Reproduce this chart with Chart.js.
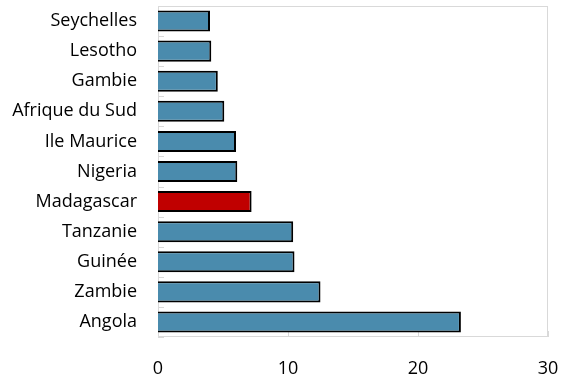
<!DOCTYPE html>
<html>
<head>
<meta charset="utf-8">
<script src="https://cdn.jsdelivr.net/npm/chart.js@4.4.1/dist/chart.umd.min.js"></script>
<style>
  html, body { margin: 0; padding: 0; background: #fff; }
  #wrap { width: 562px; height: 375px; }
</style>
</head>
<body>
<div id="wrap"><canvas id="c" width="562" height="375"></canvas></div>
<script>
// Countries, top to bottom
const countries = ['Seychelles', 'Lesotho', 'Gambie', 'Afrique du Sud', 'Ile Maurice', 'Nigeria',
                   'Madagascar', 'Tanzanie', 'Guinée', 'Zambie', 'Angola'];
const values = [4.0, 4.1, 4.6, 5.1, 6.0, 6.1, 7.2, 10.4, 10.5, 12.5, 23.3];
const xTicks = [0, 10, 20, 30];
const highlight = 'Madagascar';

const BLUE = '#4a8bad';
const RED = '#c00000';
const FRAME = '#d9d9d9';
const FONT = "'Open Sans', 'Noto Sans', sans-serif";

// Plot frame plus short inward tick marks on both axes
const framePlugin = {
  id: 'frame',
  beforeDatasetsDraw(chart) {
    const { ctx, chartArea: a, scales } = chart;
    ctx.save();
    ctx.strokeStyle = FRAME;
    ctx.lineWidth = 1;
    ctx.strokeRect(a.left + 0.5, a.top + 0.5, a.right - a.left - 1, a.bottom - a.top - 1);
    // category separators on the y axis
    const ys = scales.y;
    ctx.beginPath();
    for (let i = 0; i <= countries.length; i++) {
      const y = Math.round(ys.getPixelForValue(i - 0.5)) + 0.5;
      ctx.moveTo(a.left, y);
      ctx.lineTo(a.left + 6, y);
    }
    // value ticks on the x axis
    const xs = scales.x;
    xTicks.forEach(v => {
      const x = Math.round(xs.getPixelForValue(v)) + 0.5;
      ctx.moveTo(x, a.bottom);
      ctx.lineTo(x, a.bottom - 6);
    });
    ctx.stroke();
    ctx.restore();
  }
};

new Chart(document.getElementById('c'), {
  type: 'bar',
  data: {
    labels: countries,
    datasets: [{
      data: values,
      backgroundColor: countries.map(c => c === highlight ? RED : BLUE),
      borderColor: '#000',
      borderWidth: 2,
      borderSkipped: 'start',
      barPercentage: 0.7,
      categoryPercentage: 1.0
    }]
  },
  options: {
    indexAxis: 'y',
    responsive: false,
    animation: false,
    layout: { padding: { top: 6, right: 14, left: 0, bottom: 0 } },
    plugins: { legend: { display: false }, tooltip: { enabled: false } },
    scales: {
      x: {
        min: 0, max: 30,
        afterBuildTicks(scale) { scale.ticks = xTicks.map(v => ({ value: v })); },
        afterFit(scale) {
          scale.height = 38;
          scale.paddingLeft = 0; scale.paddingRight = 0;
          scale.paddingTop = 0; scale.paddingBottom = 0;
        },
        grid: { display: false, drawTicks: false },
        border: { display: false },
        ticks: { color: '#000', padding: 21, font: { family: FONT, size: 18 } }
      },
      y: {
        afterFit(scale) {
          scale.width = 158;
          scale.paddingLeft = 0; scale.paddingRight = 0;
          scale.paddingTop = 0; scale.paddingBottom = 0;
        },
        grid: { display: false, drawTicks: false },
        border: { display: false },
        ticks: { color: '#000', padding: 21, font: { family: FONT, size: 18 } }
      }
    }
  },
  plugins: [framePlugin]
});
</script>
</body>
</html>
